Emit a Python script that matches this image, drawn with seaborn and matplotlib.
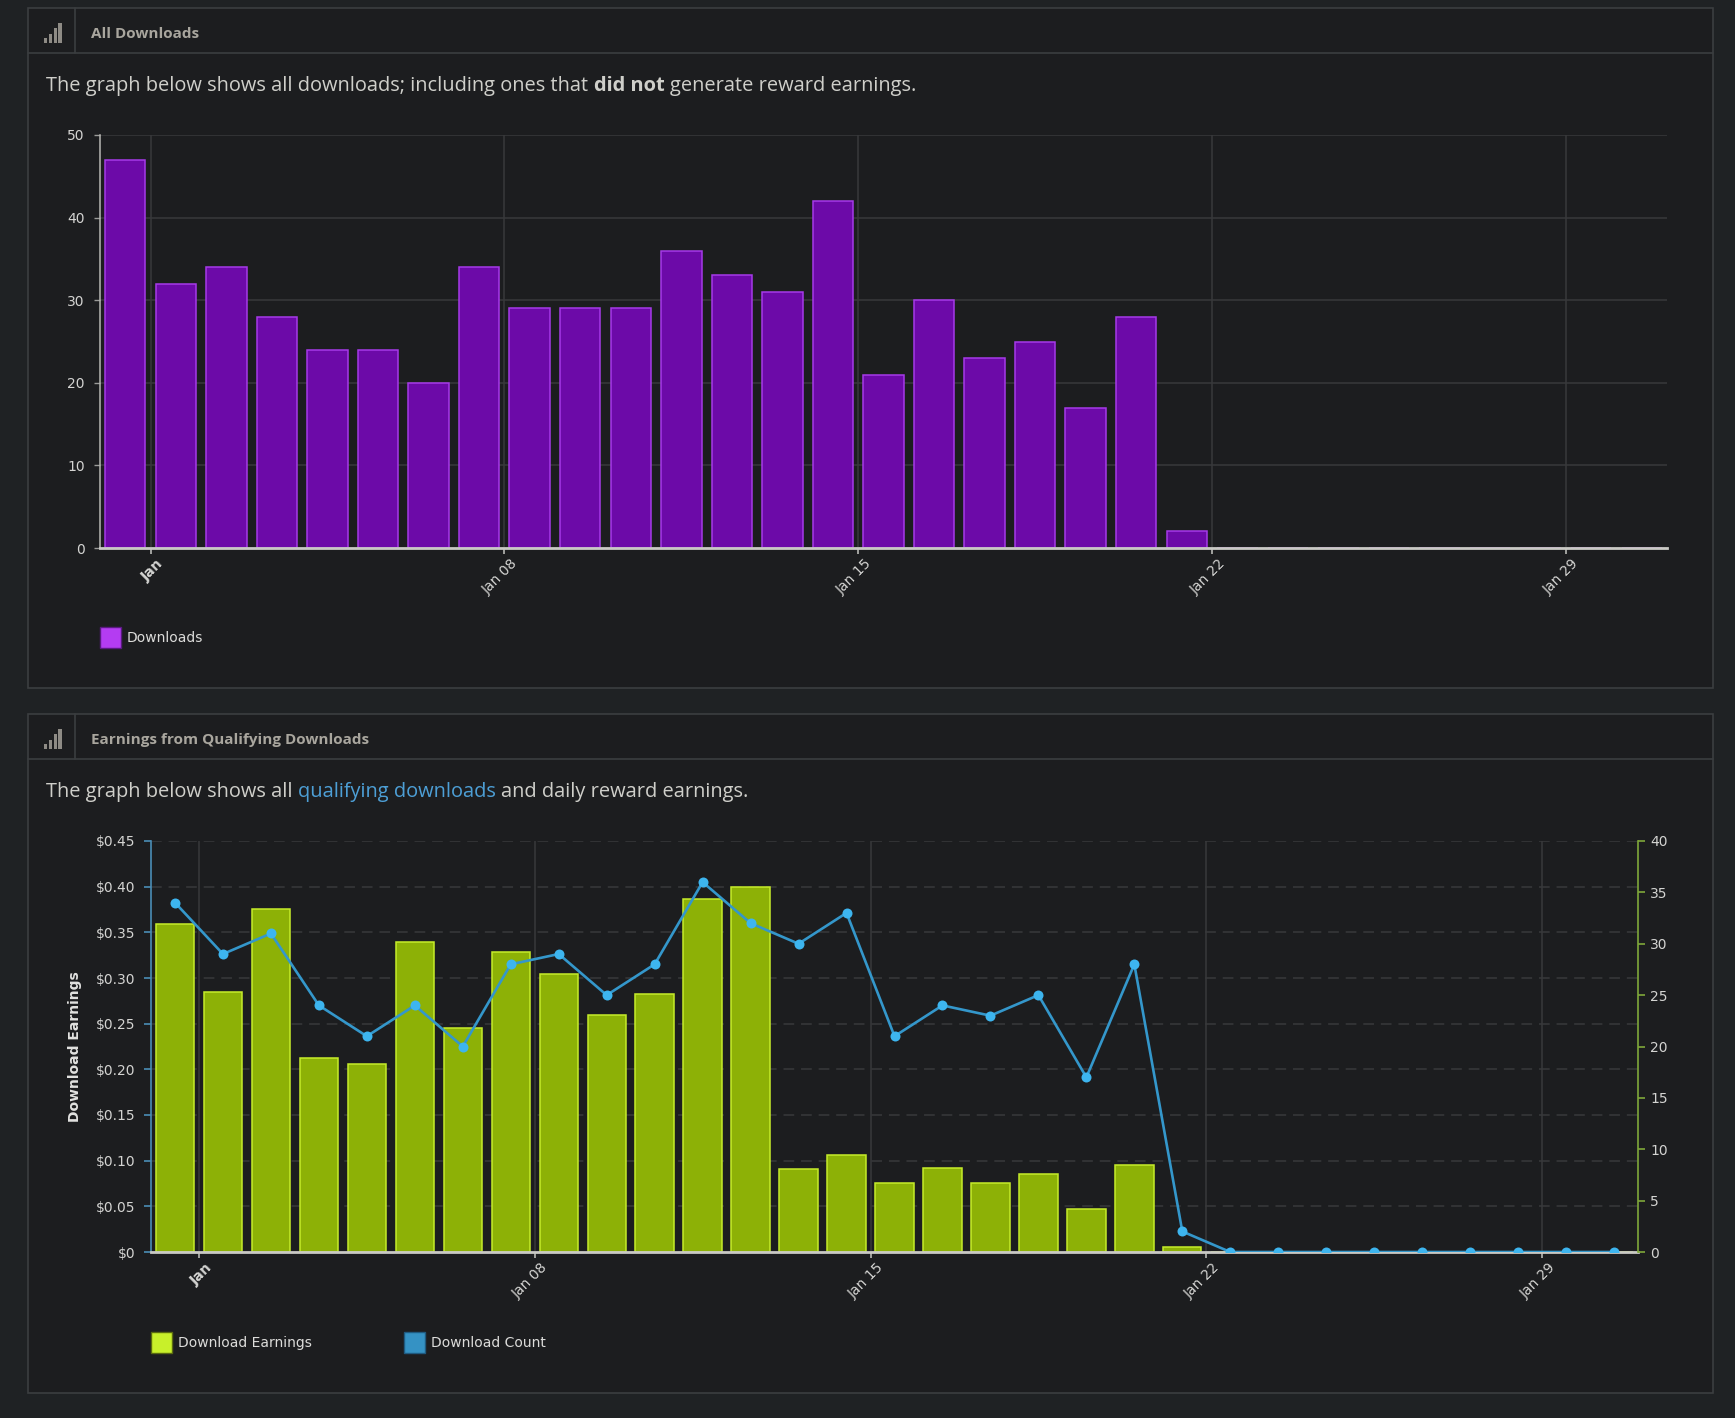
import numpy as np
import pandas as pd
import matplotlib
matplotlib.use("Agg")
import matplotlib.pyplot as plt
import seaborn as sns
from matplotlib.patches import Rectangle
from matplotlib.lines import Line2D
from matplotlib.transforms import ScaledTranslation

# ---------------- data ----------------
day_index = list(range(31))  # 0 = Jan 1
downloads = [47, 32, 34, 28, 24, 24, 20, 34, 29, 29, 29, 36, 33, 31, 42, 21,
             30, 23, 25, 17, 28, 2] + [0] * 9
earnings = [0.359, 0.285, 0.376, 0.212, 0.206, 0.339, 0.245, 0.328, 0.304,
            0.259, 0.283, 0.387, 0.400, 0.091, 0.106, 0.076, 0.092, 0.076,
            0.085, 0.047, 0.095, 0.006] + [0] * 9
download_count = [34, 29, 31, 24, 21, 24, 20, 28, 29, 25, 28, 36, 32, 30, 33,
                  21, 24, 23, 25, 17, 28, 2] + [0] * 9
tick_days = [0, 7, 14, 21, 28]
tick_labels = ["Jan", "Jan 08", "Jan 15", "Jan 22", "Jan 29"]
top_yticks = [0, 10, 20, 30, 40, 50]
earn_ticks = [0, 0.05, 0.10, 0.15, 0.20, 0.25, 0.30, 0.35, 0.40, 0.45]
count_ticks = [0, 5, 10, 15, 20, 25, 30, 35, 40]

BAR_SHIFT = -0.5  # bars are drawn half a day before the date tick

# ---------------- style ----------------
PAGE = "#1f2224"
PANEL = "#1c1d1f"
BORDER = "#3b3e40"
GRID = "#38393b"
HEADER_TXT = "#a9a69e"
DESC_TXT = "#cfcfca"
LINK = "#4d9fd6"
TICK_TXT = "#d4d4d2"
PURPLE_FILL = "#6c0aa8"
PURPLE_EDGE = "#a63ae8"
PURPLE_SWATCH = "#b43cf2"
GREEN_FILL = "#8db106"
GREEN_EDGE = "#c6ec2a"
GREEN_SWATCH = "#c8f02a"
LINE_C = "#3497cb"
MARK_C = "#3db5ef"
COUNT_SWATCH = "#3592c4"
TICK_SIZE = 10

sns.set_style("dark")
plt.rcParams["font.family"] = ["DejaVu Sans"]

W, H = 1735, 1418
fig = plt.figure(figsize=(W / 100, H / 100), dpi=100, facecolor=PAGE)
renderer = fig.canvas.get_renderer()


def fx(px):
    return px / W


def fy(py):
    return 1 - py / H


def panel(top, bottom, title):
    fig.add_artist(Rectangle((fx(28), fy(bottom)), (1713 - 28) / W, (bottom - top) / H,
                             transform=fig.transFigure, facecolor=PANEL,
                             edgecolor=BORDER, lw=1.2, zorder=-10))
    fig.add_artist(Line2D([fx(28), fx(1713)], [fy(top + 45)] * 2,
                          transform=fig.transFigure, color=BORDER, lw=1.2, zorder=-9))
    fig.add_artist(Line2D([fx(75)] * 2, [fy(top), fy(top + 45)],
                          transform=fig.transFigure, color=BORDER, lw=1.2, zorder=-9))
    base = top + 34.5
    for i, h in enumerate([5, 9, 14.5, 20]):
        x0 = 44 + i * 4.8
        fig.add_artist(Rectangle((fx(x0), fy(base)), 3.2 / W, h / H,
                                 transform=fig.transFigure, facecolor="#8e8b85",
                                 edgecolor="none", zorder=-8))
    fig.text(fx(91), fy(top + 30), title, fontfamily="Open Sans", fontweight="bold",
             fontsize=11, color=HEADER_TXT, va="baseline", ha="left")


def text_runs(x_px, y_px, parts, size):
    probe1 = fig.text(0, 0, "a a", fontfamily="Open Sans", fontsize=size)
    probe2 = fig.text(0, 0, "aa", fontfamily="Open Sans", fontsize=size)
    space = probe1.get_window_extent(renderer).width - probe2.get_window_extent(renderer).width
    probe1.remove()
    probe2.remove()
    x = x_px
    for s, color, weight, gap in parts:
        x += space if gap else 0
        t = fig.text(x / W, fy(y_px), s, fontfamily="Open Sans", fontsize=size,
                     color=color, fontweight=weight, va="baseline", ha="left")
        x = t.get_window_extent(renderer).x1


# panels
panel(8, 688, "All Downloads")
panel(714, 1393, "Earnings from Qualifying Downloads")

text_runs(46.5, 90.7, [
    ("The graph below shows all downloads; including ones that", DESC_TXT, "normal", False),
    ("did not", DESC_TXT, "bold", True),
    ("generate reward earnings.", DESC_TXT, "normal", True),
], 14.4)
text_runs(46.5, 796.8, [
    ("The graph below shows all", DESC_TXT, "normal", False),
    ("qualifying downloads", LINK, "normal", True),
    ("and daily reward earnings.", DESC_TXT, "normal", True),
], 14.4)

# ---------------- top chart ----------------
df_top = pd.DataFrame({"pos": [d + BAR_SHIFT for d in day_index], "Downloads": downloads})
ax1 = fig.add_axes([fx(100), fy(548), (1667 - 100) / W, (548 - 135) / H])
ax1.set_facecolor(PANEL)
sns.barplot(data=df_top, x="pos", y="Downloads", native_scale=True, ax=ax1,
            color=PURPLE_FILL, saturation=1, edgecolor=PURPLE_EDGE, linewidth=1.1,
            errorbar=None, width=0.8, zorder=2)
ax1.set_xlim(-1, 30)
ax1.set_ylim(0, 50)
ax1.set_xlabel("")
ax1.set_ylabel("")
ax1.set_yticks(top_yticks)
ax1.set_yticklabels([str(v) for v in top_yticks])
ax1.set_xticks(tick_days)
ax1.set_xticklabels(tick_labels)
ax1.grid(True, axis="both", color=GRID, lw=1.1, ls="-")
ax1.set_axisbelow(True)
for s in ["top", "right"]:
    ax1.spines[s].set_visible(False)
ax1.spines["left"].set_color("#b8b8b4")
ax1.spines["left"].set_linewidth(1.1)
ax1.spines["bottom"].set_color("#c9c9c4")
ax1.spines["bottom"].set_linewidth(2)
ax1.tick_params(axis="y", length=4.5, width=1, color="#9a9a98", pad=6.5,
                labelsize=TICK_SIZE, labelcolor=TICK_TXT, left=True)
ax1.tick_params(axis="x", length=4.5, width=1.2, color="#b8b8b4", pad=1.5,
                labelsize=TICK_SIZE, labelcolor=TICK_TXT, bottom=True)

# ---------------- bottom chart ----------------
df_bot = pd.DataFrame({"pos": [d + BAR_SHIFT for d in day_index],
                       "earnings": earnings, "count": download_count})
ax2 = fig.add_axes([fx(151), fy(1252), (1638 - 151) / W, (1252 - 841) / H])
ax2.set_facecolor(PANEL)
sns.barplot(data=df_bot, x="pos", y="earnings", native_scale=True, ax=ax2,
            color=GREEN_FILL, saturation=1, edgecolor=GREEN_EDGE, linewidth=1.1,
            errorbar=None, width=0.8, zorder=2)
ax2.set_xlim(-1, 30)
ax2.set_ylim(0, 0.45)
ax2.set_yticks(earn_ticks)
ax2.set_yticklabels(["$0" if v == 0 else f"${v:.2f}" for v in earn_ticks])
ax2.set_xticks(tick_days)
ax2.set_xticklabels(tick_labels)
ax2.set_xlabel("")
ax2.set_ylabel("Download Earnings", fontsize=10, fontweight="bold", color="#e2e2e0")
ax2.yaxis.set_label_coords(-0.0464, 0.5)
ax2.yaxis.grid(True, color=GRID, lw=1.1, ls=(0, (7, 4.5)))
ax2.xaxis.grid(True, color=GRID, lw=1.1, ls="-")
ax2.set_axisbelow(True)
for s in ["top", "right"]:
    ax2.spines[s].set_visible(False)
ax2.spines["left"].set_color("#4a8db6")
ax2.spines["left"].set_linewidth(1.2)
ax2.spines["bottom"].set_color("#c9c9c4")
ax2.spines["bottom"].set_linewidth(2)
ax2.tick_params(axis="y", length=5.2, width=1.2, color="#4a8db6", pad=5.8,
                labelsize=TICK_SIZE, labelcolor=TICK_TXT, left=True)
ax2.tick_params(axis="x", length=4.5, width=1.2, color="#b8b8b4", pad=1.5,
                labelsize=TICK_SIZE, labelcolor=TICK_TXT, bottom=True)

ax2r = ax2.twinx()
sns.lineplot(data=df_bot, x="pos", y="count", ax=ax2r, color=LINE_C, lw=1.9,
             marker="o", markersize=7.2, markerfacecolor=MARK_C, markeredgewidth=0)
ax2r.set_ylim(0, 40)
ax2r.set_xlim(-1, 30)
ax2r.set_yticks(count_ticks)
ax2r.set_yticklabels([str(v) for v in count_ticks])
ax2r.set_ylabel("")
ax2r.set_xlabel("")
ax2r.grid(False)
for s in ["top", "left", "bottom"]:
    ax2r.spines[s].set_visible(False)
ax2r.spines["right"].set_color("#7fa83a")
ax2r.spines["right"].set_linewidth(1.2)
ax2r.tick_params(axis="y", length=5, width=1.2, color="#7fa83a", pad=3.6,
                 labelsize=TICK_SIZE, labelcolor=TICK_TXT, right=True)

# rotated tick labels
for ax in (ax1, ax2):
    for i, lbl in enumerate(ax.get_xticklabels()):
        lbl.set_rotation(45)
        lbl.set_ha("right")
        lbl.set_va("top")
        lbl.set_rotation_mode("anchor")
        if i == 0:
            lbl.set_fontweight("bold")
        lbl.set_transform(lbl.get_transform() + ScaledTranslation(6 / 100, 0, fig.dpi_scale_trans))

# ---------------- legends ----------------
def legend_item(x_sw, y_top, color, edge, label):
    fig.add_artist(Rectangle((fx(x_sw), fy(y_top + 21)), 21 / W, 21 / H,
                             transform=fig.transFigure, facecolor=color,
                             edgecolor=edge, lw=1, zorder=5))
    fig.text(fx(x_sw + 27), fy(y_top + 11), label, fontsize=10, color="#dcdcda",
             va="center", ha="left")


legend_item(100, 627, PURPLE_SWATCH, "#5a1a80", "Downloads")
legend_item(151, 1332, GREEN_SWATCH, "#5a6a10", "Download Earnings")
legend_item(404, 1332, COUNT_SWATCH, "#1f5a80", "Download Count")

fig.savefig("out.png", dpi=100, facecolor=PAGE)
